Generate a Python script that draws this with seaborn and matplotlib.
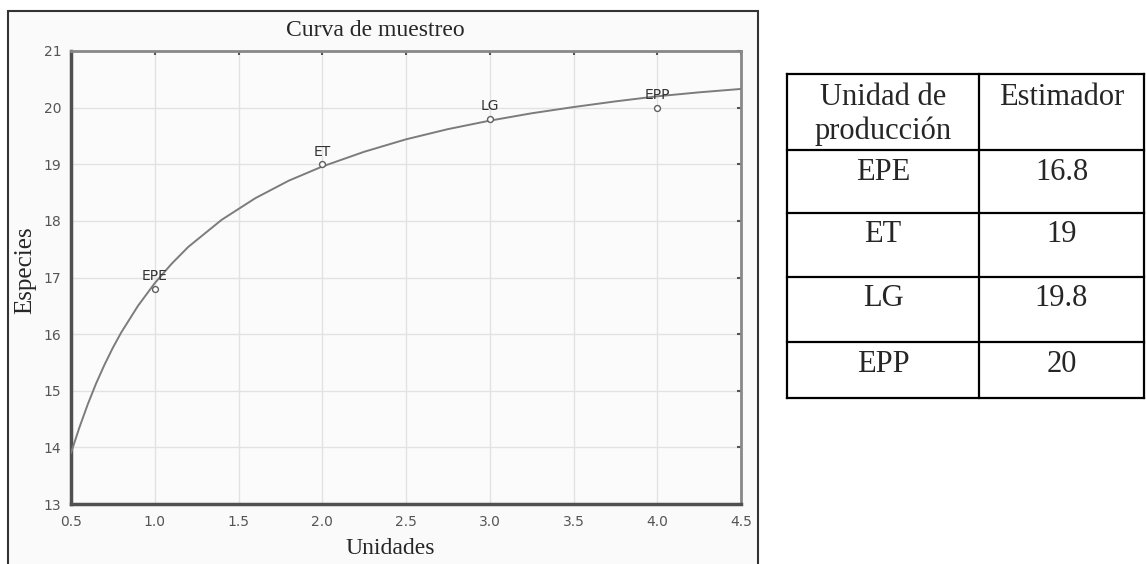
import numpy as np
import matplotlib
matplotlib.use("Agg")
import matplotlib.pyplot as plt
from matplotlib.patches import Rectangle
import pandas as pd
import seaborn as sns

# Data
unidades = [0.5, 0.55, 0.6, 0.65, 0.7, 0.75, 0.8, 0.9, 1.0, 1.1, 1.2, 1.4, 1.6, 1.8, 2.0,
            2.25, 2.5, 2.75, 3.0, 3.25, 3.5, 3.75, 4.0, 4.25, 4.5]
especies = [13.9, 14.35, 14.76, 15.13, 15.46, 15.76, 16.03, 16.5, 16.9, 17.24, 17.54, 18.02,
            18.4, 18.71, 18.96, 19.22, 19.44, 19.62, 19.77, 19.9, 20.01, 20.11, 20.2, 20.27, 20.33]
sitios = ['EPE', 'ET', 'LG', 'EPP']
sitio_x = [1.0, 2.0, 3.0, 4.0]
estimador = [16.8, 19, 19.8, 20]
xticks = [0.5, 1.0, 1.5, 2.0, 2.5, 3.0, 3.5, 4.0, 4.5]
yticks = [13, 14, 15, 16, 17, 18, 19, 20, 21]

curve = pd.DataFrame({'Unidades': unidades, 'Especies': especies})
pts = pd.DataFrame({'Unidades': sitio_x, 'Especies': estimador, 'sitio': sitios})

sns.set_style("white")
serif = ['Liberation Serif', 'DejaVu Serif']

W, H = 1147, 564
fig = plt.figure(figsize=(W / 100, H / 100), dpi=100)

# overlay in pixel coords for frame + table
ov = fig.add_axes([0, 0, 1, 1])
ov.set_xlim(0, W)
ov.set_ylim(H, 0)
ov.axis('off')
ov.add_patch(Rectangle((8, 11), 750, 560, facecolor='#fafafa', edgecolor='#333333', lw=1.5))

# table
tx = [787, 979, 1144]
ty = [74, 150, 213, 277, 342, 398]
for x in tx:
    ov.plot([x, x], [ty[0], ty[-1]], color='black', lw=1.6, solid_capstyle='projecting')
for y in ty:
    ov.plot([tx[0], tx[-1]], [y, y], color='black', lw=1.6, solid_capstyle='projecting')
c1 = (tx[0] + tx[1]) / 2
c2 = (tx[1] + tx[2]) / 2
ov.text(c1, 83, 'Unidad de\nproducción', ha='center', va='top', fontsize=22,
        family=serif, linespacing=1.22)
ov.text(c2, 83, 'Estimador', ha='center', va='top', fontsize=22, family=serif)
for i, (s, v) in enumerate(zip(sitios, estimador)):
    ov.text(c1, ty[i + 1] + 22, s, ha='center', va='center', fontsize=22, family=serif)
    ov.text(c2, ty[i + 1] + 22, f'{v:g}', ha='center', va='center', fontsize=22, family=serif)

# chart
ax = fig.add_axes([71 / W, 1 - 504 / H, 670 / W, 453 / H])
ax.set_facecolor('#fbfbfb')
sns.lineplot(data=curve, x='Unidades', y='Especies', ax=ax, color='#7c7c7c', lw=1.4, zorder=3)
sns.scatterplot(data=pts, x='Unidades', y='Especies', ax=ax, marker='o', s=18,
                facecolor='white', edgecolor='#606060', linewidth=1, zorder=4)
for _, r in pts.iterrows():
    ax.annotate(r['sitio'], (r['Unidades'], r['Especies']), xytext=(0, 9),
                textcoords='offset points', ha='center', va='center',
                fontsize=10, color='#333333')

ax.set_xlim(0.5, 4.5)
ax.set_ylim(13, 21)
ax.set_xticks(xticks)
ax.set_yticks(yticks)
ax.set_xticklabels([f'{t:.1f}' for t in xticks])
ax.grid(True, color='#e2e2e2', lw=1)
ax.tick_params(direction='in', length=3, width=1.5, colors='#555555', labelsize=10,
               top=True, right=True, labelcolor='#555555')
ax.tick_params(axis='y', pad=7)
ax.tick_params(axis='x', pad=8)
for side in ['left', 'bottom']:
    ax.spines[side].set_color('#505050')
    ax.spines[side].set_linewidth(2.5)
for side in ['top', 'right']:
    ax.spines[side].set_color('#888888')
    ax.spines[side].set_linewidth(2)
ax.set_xlabel('')
ax.set_ylabel('')

fig.text(375 / W, 1 - 30 / H, 'Curva de muestreo', ha='center', va='center',
         fontsize=17, family=serif)
fig.text(390 / W, 1 - 548 / H, 'Unidades', ha='center', va='center',
         fontsize=17, family=serif)
fig.text(25 / W, 1 - 270 / H, 'Especies', ha='center', va='center', rotation=90,
         fontsize=18, family=serif)

fig.savefig('out.png', dpi=100)
